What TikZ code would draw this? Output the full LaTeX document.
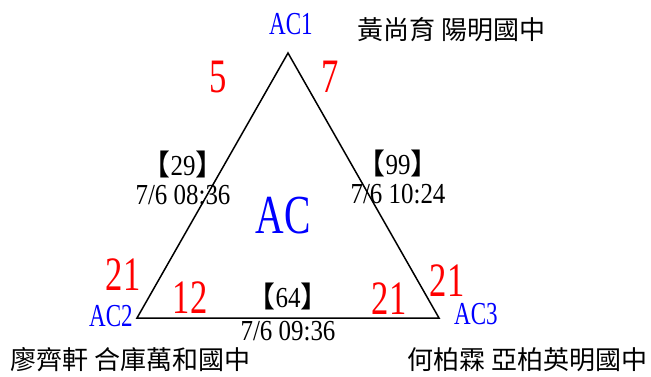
\documentclass[tikz,border=0pt]{standalone}
\usepackage{fontspec}
\setmainfont[FakeStretch=0.86]{Liberation Serif}
\newfontfamily\slim[FakeStretch=0.72]{Liberation Serif}
\newfontfamily\cjk{Noto Sans CJK TC}
\usetikzlibrary{calc}
\tikzset{
  vtx/.style={text=blue, inner sep=0, font=\slim\fontsize{32}{34}\selectfont},
  pts/.style={text=red, inner sep=0, font=\slim\fontsize{48}{50}\selectfont},
  game/.style={align=center, inner sep=0, font=\fontsize{29}{29}\selectfont},
  who/.style={inner sep=0, font=\cjk\fontsize{26}{28}\selectfont},
}
\newcommand{\lb}{{\cjk 【}}
\newcommand{\rb}{{\cjk 】}}
\begin{document}
\begin{tikzpicture}[x=1pt,y=-1pt]
\useasboundingbox (0,0) rectangle (651,376);
% corners of the triangle
\coordinate (c1) at (288,53);
\coordinate (c2) at (137,318);
\coordinate (c3) at (439,318);
\draw[black,line width=1.5pt,line join=miter] (c1)--(c2)--(c3)--cycle;
\node[vtx] (ac1) at (291,24) {AC1};
\node[vtx] (ac2) at (111,316) {AC2};
\node[vtx] (ac3) at (476,314) {AC3};
\node[text=blue, inner sep=0, font=\slim\fontsize{55}{56}\selectfont] (ac) at (283,216) {AC};
% scores
\node[pts] (s5)  at (218,77)  {5};
\node[pts] (s7)  at (330,77)  {7};
\node[pts] (s21a) at (123,275) {21};
\node[pts] (s12) at (190,298) {12};
\node[pts] (s21b) at (389,299) {21};
\node[pts] (s21c) at (447,281) {21};
% games
\node[game] (g29) at (183,178) {\lb29\rb\\7/6 08:36};
\node[game] (g99) at (398,177) {\lb99\rb\\7/6 10:24};
\node[game] (g64) at (288,296) {\lb64\rb};
\node[game] (t64) at (288,331) {7/6 09:36};
% players
\node[who, anchor=west] (p1) at (357,30) {黃尚育 陽明國中};
\node[who, anchor=west] (p2) at (10,360) {廖齊軒 合庫萬和國中};
\node[who, anchor=east] (p3) at (648,360) {何柏霖 亞柏英明國中};
\end{tikzpicture}
\end{document}
